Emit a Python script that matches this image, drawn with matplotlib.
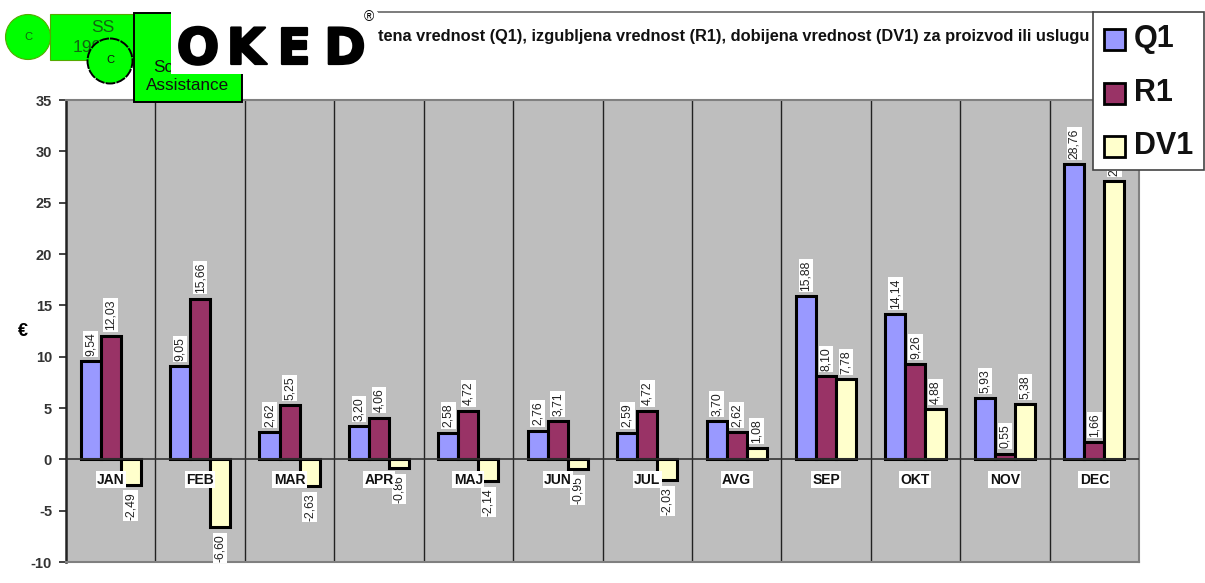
import matplotlib
matplotlib.use('Agg')
import matplotlib.pyplot as plt
import matplotlib.patheffects as pe
from matplotlib.patches import Circle, Rectangle
import numpy as np

plt.rcParams['font.family'] = ['Liberation Sans', 'DejaVu Sans']
plt.rcParams['axes.unicode_minus'] = False

months = ['JAN','FEB','MAR','APR','MAJ','JUN','JUL','AVG','SEP','OKT','NOV','DEC']
q1 = [9.54,9.05,2.62,3.20,2.58,2.76,2.59,3.70,15.88,14.14,5.93,28.76]
r1 = [12.03,15.66,5.25,4.06,4.72,3.71,4.72,2.62,8.10,9.26,0.55,1.66]
dv1 = [-2.49,-6.60,-2.63,-0.86,-2.14,-0.95,-2.03,1.08,7.78,4.88,5.38,27.10]
yticks = [-10,-5,0,5,10,15,20,25,30,35]
names = ['Q1','R1','DV1']
colors = ['#9999FF','#993366','#FFFFCC']

W = 1205
H = 583
fig = plt.figure(figsize=(W/100,H/100),dpi=100)

# plot area 66-1139 x, 100-562 y in pixels
ax = fig.add_axes([66/W,1-562/H,(1139-66)/W,(562-100)/H])
ax.set_facecolor('#BEBEBE')
ax.set_xlim(-0.5,11.5)
ax.set_ylim(-10,35)
x = np.arange(len(months))
w = 0.224

for i,vals in enumerate([q1,r1,dv1]):
	pos = x+(i-1)*w
	ax.bar(pos,vals,w,color=colors[i],edgecolor='black',linewidth=2.2,zorder=3,label=names[i])
	for p,v in zip(pos,vals):
		s = '%.2f' % v
		s = s.replace('.',',')
		if v>=0:
			ax.annotate(s,(p,v),xytext=(0,4),textcoords='offset points',rotation=90,ha='center',va='bottom',
				fontsize=8.8,color='#222222',zorder=4,bbox=dict(fc='white',ec='none',pad=1))
		else:
			ax.annotate(s,(p,v),xytext=(0,-5),textcoords='offset points',rotation=90,ha='center',va='top',
				fontsize=8.8,color='#222222',zorder=4,bbox=dict(fc='white',ec='none',pad=1))

for i in range(len(months)):
	ax.text(i,-2.0,months[i],ha='center',va='center',fontsize=10,fontweight='bold',color='#111111',zorder=5,
		bbox=dict(fc='white',ec='none',pad=1))

# separators between the months
for i in range(1,len(months)):
	ax.axvline(i-0.5,color='#222222',linewidth=1.0,zorder=1)
ax.axhline(0,color='#333333',linewidth=1.2,zorder=3.5)

ax.set_xticks([])
ax.set_yticks(yticks)
ax.tick_params(axis='y',length=5,width=1.2,pad=5,color='#222222')
for t in ax.get_yticklabels():
	t.set_fontsize(10.5)
	t.set_fontweight('bold')
	t.set_color('#333333')
for s in ['top','right','bottom']:
	ax.spines[s].set_color('#808080')
	ax.spines[s].set_linewidth(1.5)
ax.spines['left'].set_color('#222222')
ax.spines['left'].set_linewidth(1.8)

# overlay in pixel coordinates for header, logo and stamps
ov = fig.add_axes([0,0,1,1])
ov.set_xlim(0,W)
ov.set_ylim(H,0)
ov.axis('off')
ov.patch.set_alpha(0)

ov.plot([378,1093],[12,12],color='#666666',linewidth=1.2,zorder=1)
ov.text(378,36,'tena vrednost (Q1), izgubljena vrednost (R1), dobijena vrednost (DV1) za proizvod ili uslugu',
	ha='left',va='center',fontsize=11.75,fontweight='bold',color='#111111',zorder=1)
ov.text(23,332,'€',ha='center',va='center',fontsize=13,fontweight='bold',zorder=1)

green = '#00FF00'
ov.add_patch(Rectangle((50,14),84,46,fc=green,ec='#55AA00',lw=0.8,zorder=2))
ov.text(103,27,'SS',ha='center',va='center',fontsize=12.5,color='#116611',zorder=2)
ov.text(92,47,'1999',ha='center',va='center',fontsize=12.5,color='#116611',zorder=2)
ov.add_patch(Circle((28,37),22.5,fc=green,ec='#55AA00',lw=0.8,zorder=2))
ov.text(28,37,'C',ha='center',va='center',fontsize=8,color='#116611',zorder=2)
ov.add_patch(Circle((110,61),22.5,fc=green,ec='black',lw=1.4,ls=(0,(5,0.6)),zorder=3))
ov.text(110,60,'C',ha='center',va='center',fontsize=8,color='#111111',zorder=3)
ov.add_patch(Rectangle((134,13),108,89,fc=green,ec='black',lw=1.4,zorder=4))
ov.text(188,86,'Assistance',ha='center',va='center',fontsize=12.3,color='#111111',zorder=4)
ov.text(153,68,'Sc',ha='left',va='center',fontsize=12.3,color='#111111',zorder=4)

# white logo block on top of the stamps
ov.add_patch(Rectangle((171,12),207,62,fc='white',ec='none',zorder=5))
logo_letters = ['O','K','E','D']
logo_x = [198,246,294,345]
for i in range(4):
	ov.text(logo_x[i],50,logo_letters[i],ha='center',va='center',fontsize=36,fontweight='bold',family='DejaVu Sans',zorder=6,
		path_effects=[pe.withStroke(linewidth=1.6,foreground='black')])
ov.text(369,17,'®',ha='center',va='center',fontsize=10,zorder=6)

# legend
ov.add_patch(Rectangle((1093,12),111,158,fc='white',ec='#444444',lw=1.2,zorder=7))
ly = [39,93,146]
for i in range(3):
	ov.add_patch(Rectangle((1104,ly[i]-10),21,21,fc=colors[i],ec='black',lw=2,zorder=8))
	ov.text(1134,ly[i],names[i],ha='left',va='center',fontsize=22,fontweight='bold',color='#111111',zorder=8)

plt.savefig('out.png',dpi=100)
